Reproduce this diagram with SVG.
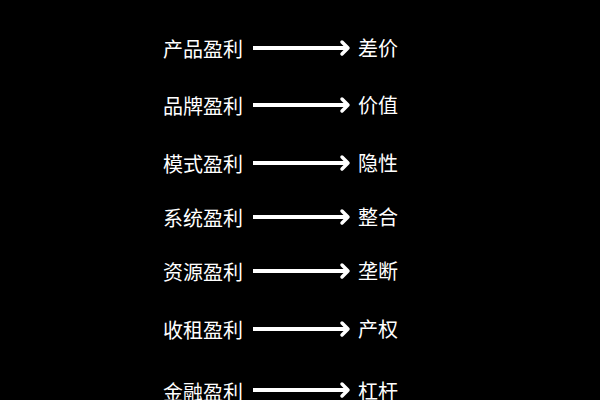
<svg xmlns="http://www.w3.org/2000/svg" width="600" height="400" viewBox="0 0 600 400">
<defs>
<style>
.t{font-family:"Noto Sans CJK SC","Noto Sans",sans-serif;font-size:20px;fill:#ffffff;}
.a{stroke:#ffffff;stroke-width:4;fill:none;}
.h{stroke:#ffffff;stroke-width:3.5;fill:none;stroke-linecap:round;stroke-linejoin:round;}
</style>
</defs>
<rect x="0" y="0" width="600" height="400" fill="#000000"/>
<g id="connectors">
<g transform="translate(0,48)"><line class="a" x1="253" y1="0" x2="347" y2="0"/><polyline class="h" points="342,-6 348,0 342,6"/></g>
<g transform="translate(0,105)"><line class="a" x1="253" y1="0" x2="347" y2="0"/><polyline class="h" points="342,-6 348,0 342,6"/></g>
<g transform="translate(0,163)"><line class="a" x1="253" y1="0" x2="347" y2="0"/><polyline class="h" points="342,-6 348,0 342,6"/></g>
<g transform="translate(0,217)"><line class="a" x1="253" y1="0" x2="347" y2="0"/><polyline class="h" points="342,-6 348,0 342,6"/></g>
<g transform="translate(0,271)"><line class="a" x1="253" y1="0" x2="347" y2="0"/><polyline class="h" points="342,-6 348,0 342,6"/></g>
<g transform="translate(0,329)"><line class="a" x1="253" y1="0" x2="347" y2="0"/><polyline class="h" points="342,-6 348,0 342,6"/></g>
<g transform="translate(0,390)"><line class="a" x1="253" y1="0" x2="347" y2="0"/><polyline class="h" points="342,-6 348,0 342,6"/></g>
</g>
<g id="row1"><text class="t" x="163" y="57">产品盈利</text><text class="t" x="358" y="56">差价</text></g>
<g id="row2"><text class="t" x="163" y="114">品牌盈利</text><text class="t" x="358" y="113">价值</text></g>
<g id="row3"><text class="t" x="163" y="172">模式盈利</text><text class="t" x="358" y="171">隐性</text></g>
<g id="row4"><text class="t" x="163" y="226">系统盈利</text><text class="t" x="358" y="225">整合</text></g>
<g id="row5"><text class="t" x="163" y="280">资源盈利</text><text class="t" x="358" y="279">垄断</text></g>
<g id="row6"><text class="t" x="163" y="338">收租盈利</text><text class="t" x="358" y="337">产权</text></g>
<g id="row7"><text class="t" x="163" y="400">金融盈利</text><text class="t" x="358" y="399">杠杆</text></g>
</svg>
